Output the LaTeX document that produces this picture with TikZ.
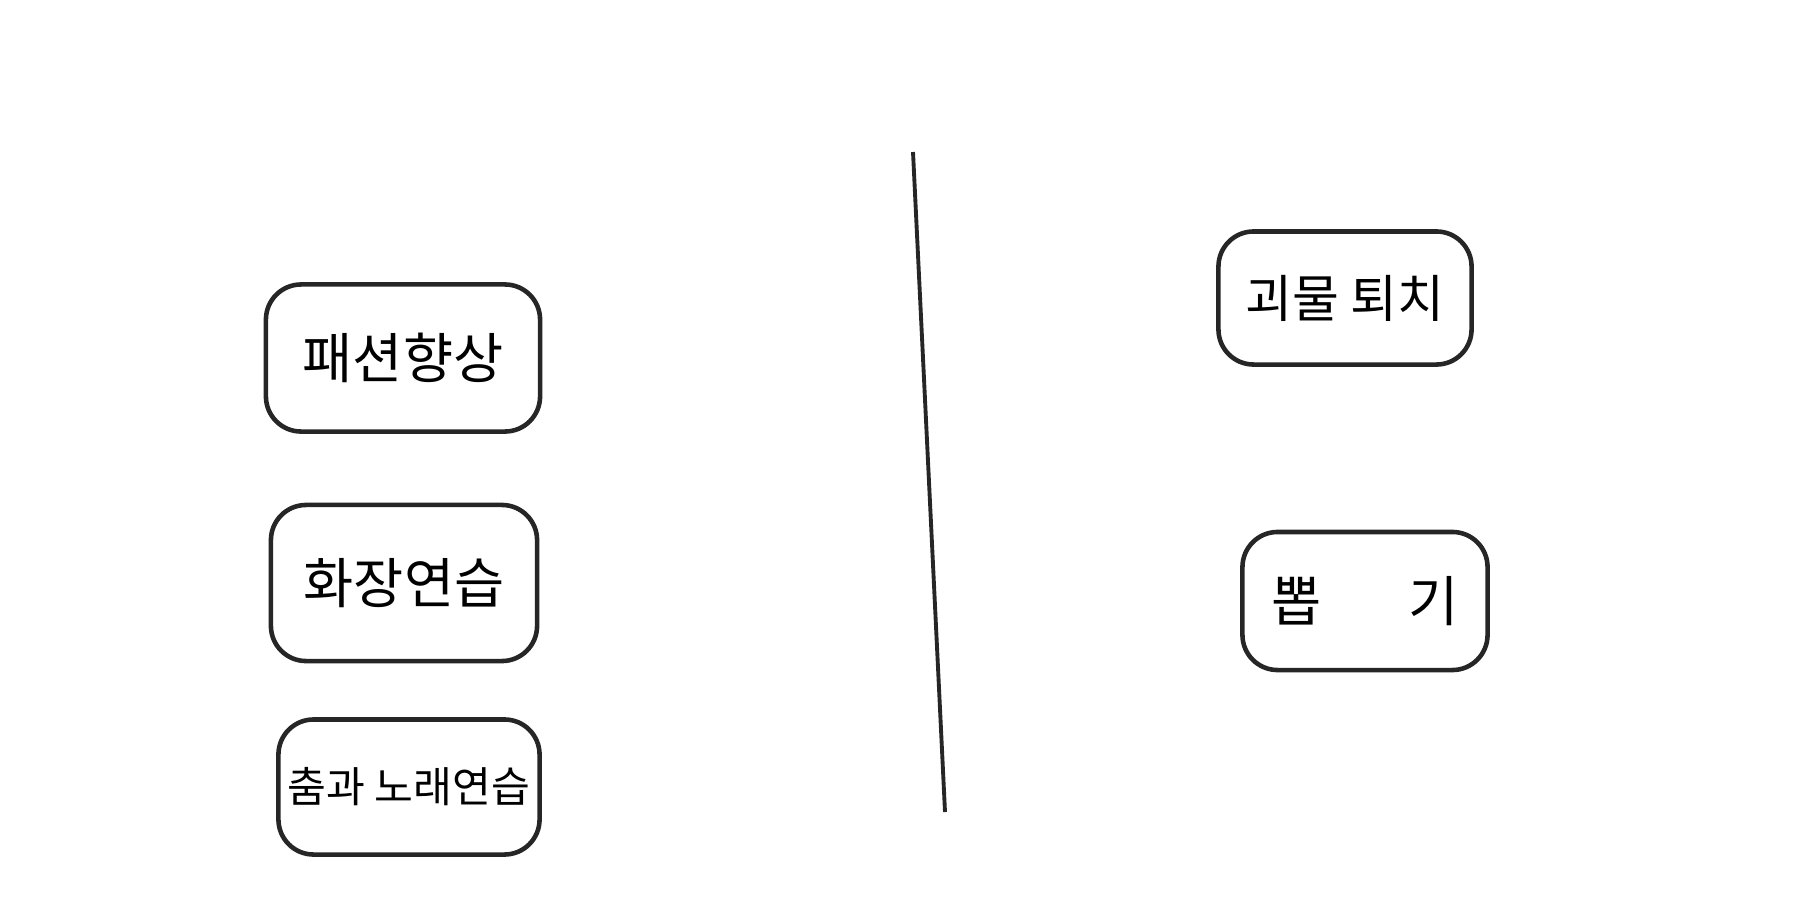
\documentclass[tikz,border=0pt]{standalone}
\usepackage{fontspec}
\newfontfamily\kr{Noto Sans CJK KR}
\begin{document}
\begin{tikzpicture}[x=0.01cm,y=-0.01cm,
  card/.style={draw=black!85, line width=1.3pt, rounded corners=10pt, align=center, inner sep=0pt, font=\kr\fontsize{15.5}{19}\selectfont},
  divider/.style={draw=black!85, line width=1.1pt}]
\useasboundingbox (0,0) rectangle (1800,900);
\node[card, minimum width=2.74cm, minimum height=1.47cm] (a) at (403,358) {패션향상};
\node[card, minimum width=2.66cm, minimum height=1.56cm] (b) at (404,583) {화장연습};
\node[card, minimum width=2.61cm, minimum height=1.35cm, font=\kr\fontsize{12}{15}\selectfont] (c) at (409,787) {춤과 노래연습};
\node[card, minimum width=2.53cm, minimum height=1.33cm, font=\kr\fontsize{14.5}{18}\selectfont] (d) at (1345,298) {괴물 퇴치};
\node[card, minimum width=2.45cm, minimum height=1.38cm] (e) at (1365,601) {뽑\hspace{1.6em}기};
\coordinate (top) at (913,152);
\coordinate (bot) at (945,812);
\draw[divider] (top) -- (bot);
\end{tikzpicture}
\end{document}
